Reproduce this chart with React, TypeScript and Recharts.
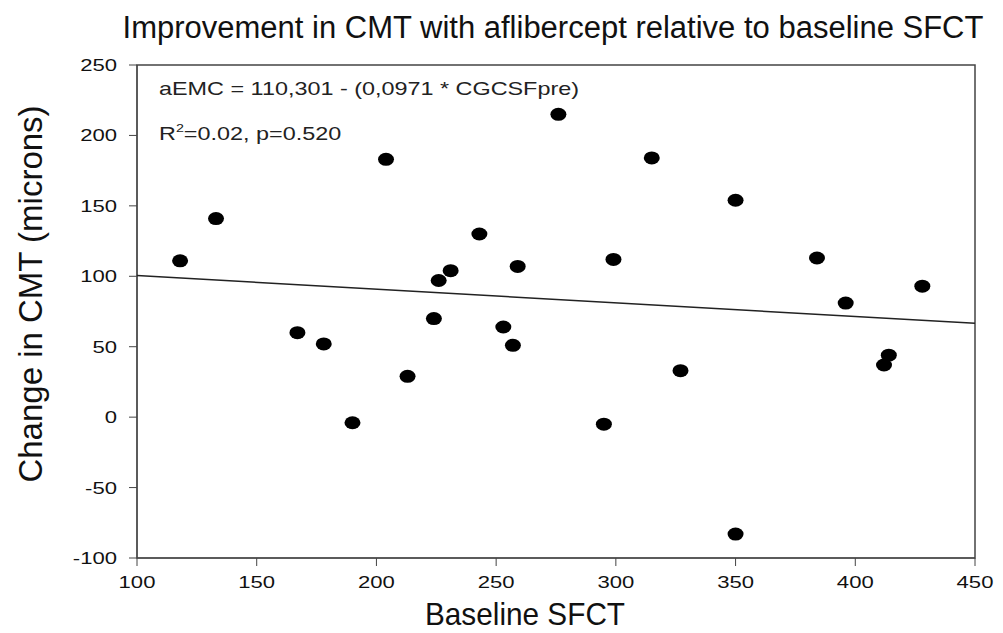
import React from 'react';
import { ScatterChart, Scatter, XAxis, YAxis, ReferenceArea } from 'recharts';

const baselineSfct = [
  118, 133, 204, 276, 243, 231, 226, 259, 224, 253, 257, 167, 178, 213, 190,
  315, 350, 299, 384, 428, 396, 414, 412, 327, 295, 350,
];
const cmtChange = [
  111, 141, 183, 215, 130, 104, 97, 107, 70, 64, 51, 60, 52, 29, -4,
  184, 154, 112, 113, 93, 81, 44, 37, 33, -5, -83,
];
const fitX = [100, 450];
const fitY = [100.6, 66.6];
const xTicks = [100, 150, 200, 250, 300, 350, 400, 450];
const yTicks = [-100, -50, 0, 50, 100, 150, 200, 250];

const points = baselineSfct.map((x, i) => ({ x, y: cmtChange[i] }));
const fitLine = fitX.map((x, i) => ({ x, y: fitY[i] }));

const FONT = '"Liberation Sans", Arial, sans-serif';
const INK = '#111';

const Dot = (props: any) => {
  const { cx, cy } = props;
  if (cx == null || cy == null) return <g />;
  return <ellipse cx={cx} cy={cy} rx={8} ry={6.5} fill="#000" />;
};

// tick labels in the original are drawn wide, so stretch them a bit
const XTick = (props: any) => {
  const { x, y, payload } = props;
  return (
    <text
      transform={`translate(${x},${y + 20}) scale(1.3,1)`}
      textAnchor="middle"
      fontSize={17}
      fontFamily={FONT}
      fill={INK}
    >
      {payload.value}
    </text>
  );
};

const YTick = (props: any) => {
  const { x, y, payload } = props;
  return (
    <text
      transform={`translate(${x - 10},${y + 6}) scale(1.3,1)`}
      textAnchor="end"
      fontSize={17}
      fontFamily={FONT}
      fill={INK}
    >
      {payload.value}
    </text>
  );
};

export default function App() {
  return (
    <div
      style={{
        position: 'absolute',
        left: 0,
        top: 0,
        width: 1003,
        height: 633,
        background: '#fff',
      }}
    >
      <ScatterChart
        width={1003}
        height={633}
        margin={{ top: 65, right: 28, bottom: 0, left: 0 }}
      >
        <XAxis
          type="number"
          dataKey="x"
          domain={[100, 450]}
          ticks={xTicks}
          height={75}
          stroke="#444"
          tickSize={8}
          tick={<XTick />}
        />
        <YAxis
          type="number"
          dataKey="y"
          domain={[-100, 250]}
          ticks={yTicks}
          width={137}
          stroke="#444"
          tickSize={8}
          tick={<YTick />}
        />
        <ReferenceArea
          x1={100}
          x2={450}
          y1={-100}
          y2={250}
          fill="none"
          fillOpacity={0}
          stroke="#444"
          strokeWidth={1.5}
        />
        <Scatter
          data={fitLine}
          line={{ stroke: '#222', strokeWidth: 1.5 }}
          shape={() => <g />}
          isAnimationActive={false}
        />
        <Scatter data={points} shape={Dot} isAnimationActive={false} />
      </ScatterChart>
      <svg
        width={1003}
        height={633}
        style={{ position: 'absolute', left: 0, top: 0, pointerEvents: 'none' }}
        fontFamily={FONT}
      >
        <text x={553} y={38} textAnchor="middle" fontSize={31} fill={INK}>
          Improvement in CMT with aflibercept relative to baseline SFCT
        </text>
        <text transform="translate(159,95) scale(1.3,1)" fontSize={18} fill="#222">
          aEMC = 110,301 - (0,0971 * CGCSFpre)
        </text>
        <text transform="translate(159,140) scale(1.3,1)" fontSize={18} fill="#222">
          R
          <tspan dy={-8} fontSize={11}>
            2
          </tspan>
          <tspan dy={8}>=0.02, p=0.520</tspan>
        </text>
        <text
          transform="translate(525,625) scale(0.93,1)"
          textAnchor="middle"
          fontSize={32}
          fill={INK}
        >
          Baseline SFCT
        </text>
        <text
          transform="translate(42,294) rotate(-90)"
          textAnchor="middle"
          fontSize={33}
          fill={INK}
        >
          Change in CMT (microns)
        </text>
      </svg>
    </div>
  );
}
